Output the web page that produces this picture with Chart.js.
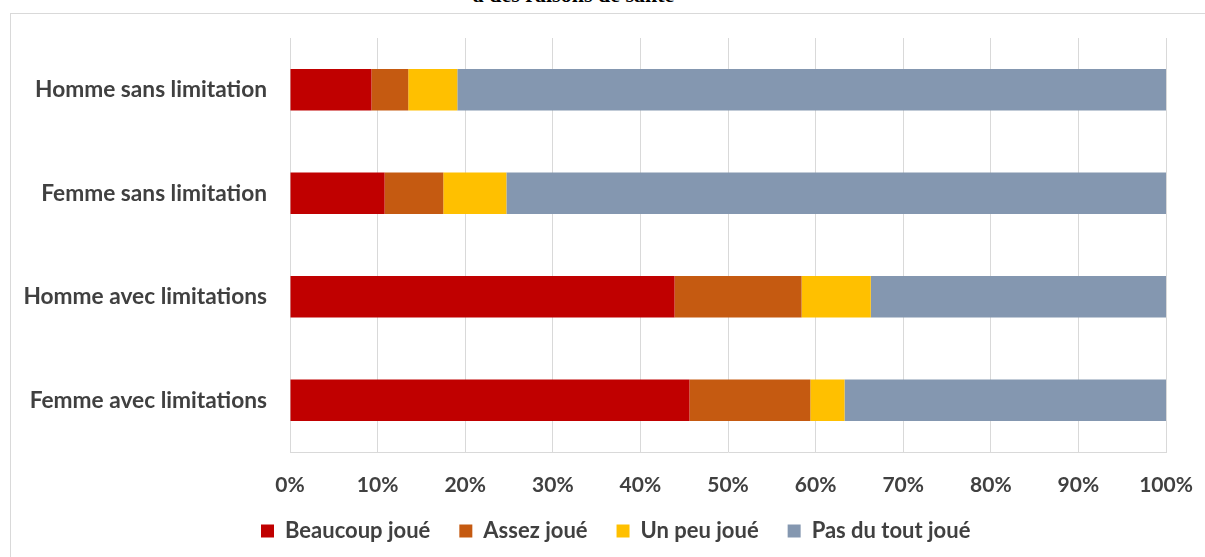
<!DOCTYPE html>
<html>
<head>
<meta charset="utf-8">
<script src="https://cdn.jsdelivr.net/npm/chart.js@4"></script>
<style>
  html, body { margin: 0; padding: 0; background: #ffffff; }
  body { width: 1205px; height: 557px; position: relative; overflow: hidden; }
  #frame { position: absolute; left: 10px; top: 13px; width: 1400px; height: 800px;
           border-top: 1px solid #d9d9d9; border-left: 1px solid #d9d9d9; box-sizing: border-box; }
  #title { position: absolute; left: 0; width: 1147px; top: -16.5px; text-align: center;
           font: bold 22px/22px "Liberation Serif", serif; color: #000; white-space: nowrap; }
  #wrap { position: absolute; left: 0; top: 0; width: 1205px; height: 557px; }
</style>
</head>
<body>
<div id="frame"></div>
<div id="title">à des raisons de santé</div>
<div id="wrap"><canvas id="c" width="1205" height="557"></canvas></div>
<script>
const categories = ["Homme sans limitation", "Femme sans limitation", "Homme avec limitations", "Femme avec limitations"];
const seriesNames = ["Beaucoup joué", "Assez joué", "Un peu joué", "Pas du tout joué"];
const beaucoup = [9.3, 10.8, 43.9, 45.6];
const assez = [4.2, 6.7, 14.5, 13.8];
const unPeu = [5.6, 7.2, 7.9, 3.9];
const pasDuTout = [80.9, 75.3, 33.7, 36.7];
const seriesColors = ["#C00000", "#C55A11", "#FFC000", "#8497B0"];
const xTicks = [0, 10, 20, 30, 40, 50, 60, 70, 80, 90, 100];

const FONT = "Lato";
const TXT = "#404040";
const seriesValues = [beaucoup, assez, unPeu, pasDuTout];

const LEGEND_PAD = 29;
const legendPlace = {
  id: "legendPlace",
  afterLayout(chart) {
    const lg = chart.legend;
    if (!lg) return;
    const w = lg.right - lg.left;
    const h = lg.bottom - lg.top;
    lg.left = 261 - LEGEND_PAD; lg.right = lg.left + w;
    lg.top = 531 - 11 - LEGEND_PAD; lg.bottom = lg.top + h;
  }
};

new Chart(document.getElementById("c"), {
  type: "bar",
  data: {
    labels: categories,
    datasets: seriesNames.map((n, i) => ({
      label: n,
      data: seriesValues[i],
      backgroundColor: seriesColors[i],
      borderWidth: 0,
      barPercentage: 0.4,
      categoryPercentage: 1.0
    }))
  },
  plugins: [legendPlace],
  options: {
    indexAxis: "y",
    responsive: false,
    animation: false,
    layout: { padding: { left: 10, right: 39, top: 38, bottom: 0 } },
    scales: {
      x: {
        stacked: true,
        min: 0, max: 100,
        afterBuildTicks: (s) => { s.ticks = xTicks.map(v => ({ value: v })); },
        afterFit: (s) => { s.height = 44; s.paddingRight = 0; s.paddingLeft = 0; },
        grid: { color: "#d9d9d9", lineWidth: 1, drawTicks: false },
        border: { display: true, color: "#d9d9d9" },
        ticks: {
          padding: 21,
          maxRotation: 0,
          color: TXT,
          font: { family: FONT, size: 21, weight: "bold" },
          callback: (v) => v + "%"
        }
      },
      y: {
        stacked: true,
        afterFit: (s) => { s.width = 280; },
        grid: { display: false, drawTicks: false },
        border: { display: false },
        ticks: {
          padding: 23,
          color: TXT,
          font: { family: FONT, size: 22.7, weight: "bold" }
        }
      }
    },
    plugins: {
      legend: {
        position: "bottom",
        align: "start",
        labels: {
          boxWidth: 13, boxHeight: 13, padding: LEGEND_PAD,
          color: TXT,
          font: { family: FONT, size: 22, weight: "bold" }
        }
      },
      tooltip: { enabled: false },
      title: { display: false }
    }
  }
});
</script>
</body>
</html>
